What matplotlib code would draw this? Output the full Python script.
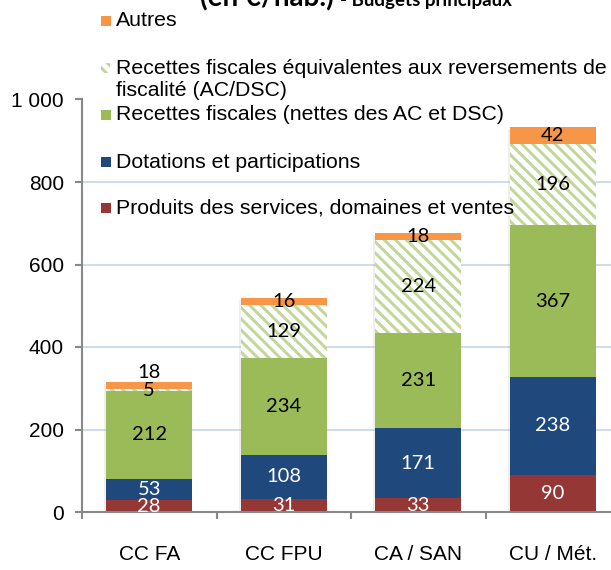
import matplotlib.pyplot as plt
import matplotlib.patheffects as pe
from matplotlib.patches import Rectangle
import numpy as np

categories = ["CC FA", "CC FPU", "CA / SAN", "CU / Mét."]
produits = [28, 31, 33, 90]
dotations = [53, 108, 171, 238]
recettes_nettes = [212, 234, 231, 367]
recettes_ac_dsc = [5, 129, 224, 196]
autres = [18, 16, 18, 42]

series_names = ["Produits des services, domaines et ventes",
                "Dotations et participations",
                "Recettes fiscales (nettes des AC et DSC)",
                "Recettes fiscales équivalentes aux reversements de\nfiscalité (AC/DSC)",
                "Autres"]

RED = "#953735"
BLUE = "#1f497d"
GREEN = "#9bbb59"
HATCH = "#c3d69b"
ORANGE = "#f79646"

plt.rcParams['hatch.linewidth'] = 2.2
plt.rcParams['hatch.color'] = HATCH

W, H = 611, 570
fig = plt.figure(figsize=(W / 100, H / 100), dpi=100)
ax = fig.add_axes([82 / W, (H - 512) / H, 538 / W, 412.5 / H])

x = np.arange(len(categories))
width = 0.64

layers = [(produits, dict(color=RED), "white"),
          (dotations, dict(color=BLUE), "white"),
          (recettes_nettes, dict(color=GREEN), "black"),
          (recettes_ac_dsc, dict(color="white", hatch="\\\\\\", edgecolor=HATCH, linewidth=0), "black"),
          (autres, dict(color=ORANGE), "black")]

bottom = np.zeros(len(categories))
for vals, style, txtcol in layers:
    vals = np.array(vals, dtype=float)
    bars = ax.bar(x, vals, width, bottom=bottom, zorder=2, **style)
    for i, b in enumerate(bars):
        yc = bottom[i] + vals[i] / 2
        dy = 0
        # small top segment of first bar: label pushed above the bar
        if i == 0 and style.get("color") == ORANGE:
            dy = 32
        ax.text(x[i], yc + dy, "%d" % vals[i], ha="center", va="center",
                color=txtcol, fontsize=14.5, family="Lato", zorder=5)
    bottom = bottom + vals

# soft shadow behind whole stacks
for i in range(len(categories)):
    r = Rectangle((x[i] - width / 2, 0), width, bottom[i], facecolor="none", edgecolor="none", zorder=1.9)
    r.set_path_effects([pe.SimplePatchShadow(offset=(-1.5, -1.5), shadow_rgbFace="#aaaaaa", alpha=0.18)])
    ax.add_patch(r)

ax.set_xlim(-0.5, len(categories) - 0.5)
ax.set_ylim(0, 1000)
ax.set_yticks(range(0, 1001, 200))
ax.set_yticklabels(["0", "200", "400", "600", "800", "1 000"], fontsize=15, family="Liberation Sans")
ax.yaxis.grid(True, color="#c6d6ec", linewidth=1.2, zorder=0)
ax.set_axisbelow(True)

ax.set_xticks(np.arange(-0.5, len(categories), 1.0))
ax.set_xticklabels([])
ax.set_xticks(x, minor=True)
ax.set_xticklabels(categories, minor=True, fontsize=15, family="Liberation Sans")
ax.tick_params(axis="x", which="minor", length=0, pad=24)
ax.tick_params(axis="x", which="major", length=5, color="#888888", width=1.5)
ax.tick_params(axis="y", length=5, color="#888888", width=1.5, pad=8)

for s in ["top", "right"]:
    ax.spines[s].set_visible(False)
for s in ["left", "bottom"]:
    ax.spines[s].set_color("#888888")
    ax.spines[s].set_linewidth(1.5)

# legend drawn by hand, over the plot
leg_items = [(ORANGE, None, 21, 21, "Autres"),
             ("white", HATCH, 68, 80, series_names[3]),
             (GREEN, None, 115, 115, series_names[2]),
             (BLUE, None, 162, 162, series_names[1]),
             (RED, None, 208, 208, series_names[0])]
for col, hcol, ym, yt, label in leg_items:
    if hcol is None:
        fig.patches.append(Rectangle((101 / W, 1 - (ym + 5) / H), 10 / W, 10 / H,
                                     transform=fig.transFigure, facecolor=col, edgecolor="none", zorder=6))
    else:
        fig.patches.append(Rectangle((101 / W, 1 - (ym + 5) / H), 9 / W, 10 / H,
                                     transform=fig.transFigure, facecolor="white", hatch="\\\\\\",
                                     edgecolor=hcol, linewidth=0, zorder=6))
    fig.text(116 / W, 1 - yt / H, label, ha="left", va="center",
             fontsize=15.3, family="Liberation Sans", linespacing=1.2, zorder=7)

# title, partly cut by the top edge (as in the source)
fig.text(200 / W, 1 - 6 / H, "(en €/hab.)", ha="left", va="baseline",
         fontsize=20, fontweight="bold", family="Lato")
fig.text(340 / W, 1 - 6 / H, "- Budgets principaux", ha="left", va="baseline",
         fontsize=13.5, fontweight="bold", family="Lato")

fig.savefig("out.png", dpi=100)
